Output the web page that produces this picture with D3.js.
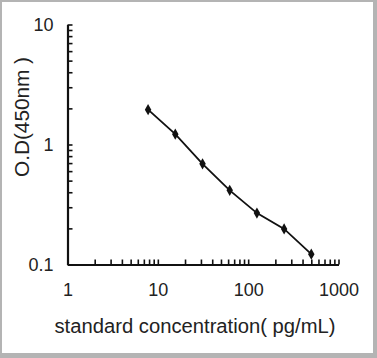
<!DOCTYPE html>
<html><head><meta charset="utf-8">
<script src="https://cdn.jsdelivr.net/npm/d3@7"></script>
<style>html,body{margin:0;padding:0;background:#fff}svg{display:block}</style>
</head><body>
<svg id="c" width="377" height="358"></svg>
<script>
const concentrations = [7.8, 15.6, 31.25, 62.5, 125, 250, 500];
const odValues = [1.95, 1.22, 0.69, 0.415, 0.268, 0.198, 0.122];
const xTickLabels = [1, 10, 100, 1000];
const yTickLabels = [0.1, 1, 10];
const xTitle = "standard concentration( pg/mL)";
const yTitle = "O.D(450nm )";

const svg = d3.select("#c");
svg.append("rect").attr("x",0).attr("y",0).attr("width",377).attr("height",358).attr("fill","#b4b4b4");
svg.append("rect").attr("x",2).attr("y",2).attr("width",371).attr("height",351).attr("fill","#fff");

const x = d3.scaleLog().domain([1,1000]).range([67.5,338.5]);
const y = d3.scaleLog().domain([0.1,10]).range([264.5,24.5]);
const font = "Liberation Sans, Arial, sans-serif";
const ink = "#111";

const xAxis = d3.axisBottom(x).tickValues(x.ticks()).tickSizeInner(-5).tickSizeOuter(0).tickPadding(19)
  .tickFormat(d => xTickLabels.includes(d) ? d3.format("d")(d) : "");
const gx = svg.append("g").attr("transform","translate(0,264.5)").call(xAxis);
gx.select(".domain").attr("stroke",ink).attr("stroke-width",2.2);
gx.selectAll(".tick line").attr("stroke",ink).attr("stroke-width",1.6);
gx.selectAll(".tick text").attr("font-family",font).attr("font-size",18).attr("fill","#222");

const yAxis = d3.axisLeft(y).tickValues(y.ticks()).tickSizeInner(-5).tickSizeOuter(0).tickPadding(14)
  .tickFormat(d => yTickLabels.includes(d) ? String(d) : "");
const gy = svg.append("g").attr("transform","translate(67.5,0)").call(yAxis);
gy.select(".domain").attr("stroke",ink).attr("stroke-width",2.2);
gy.selectAll(".tick line").attr("stroke",ink).attr("stroke-width",1.6);
gy.selectAll(".tick text").attr("font-family",font).attr("font-size",18).attr("fill","#222");

const pts = concentrations.map((c,i)=>[c, odValues[i]]);
svg.append("path").datum(pts)
  .attr("fill","none").attr("stroke",ink).attr("stroke-width",1.8)
  .attr("d", d3.line().x(d=>x(d[0])).y(d=>y(d[1])));
svg.append("g").selectAll("path").data(pts).join("path")
  .attr("transform", d=>`translate(${x(d[0])},${y(d[1])})`)
  .attr("d", d3.symbol().type(d3.symbolDiamond).size(36))
  .attr("fill",ink);

svg.append("text").attr("x",195).attr("y",333).attr("text-anchor","middle")
  .attr("font-family",font).attr("font-size",20).attr("fill","#222")
  .attr("textLength",281).attr("lengthAdjust","spacingAndGlyphs").text(xTitle);
svg.append("text").attr("transform","translate(29,117) rotate(-90)").attr("text-anchor","middle")
  .attr("font-family",font).attr("font-size",20).attr("fill","#222")
  .attr("textLength",120).attr("lengthAdjust","spacingAndGlyphs").text(yTitle);
</script>
</body></html>
